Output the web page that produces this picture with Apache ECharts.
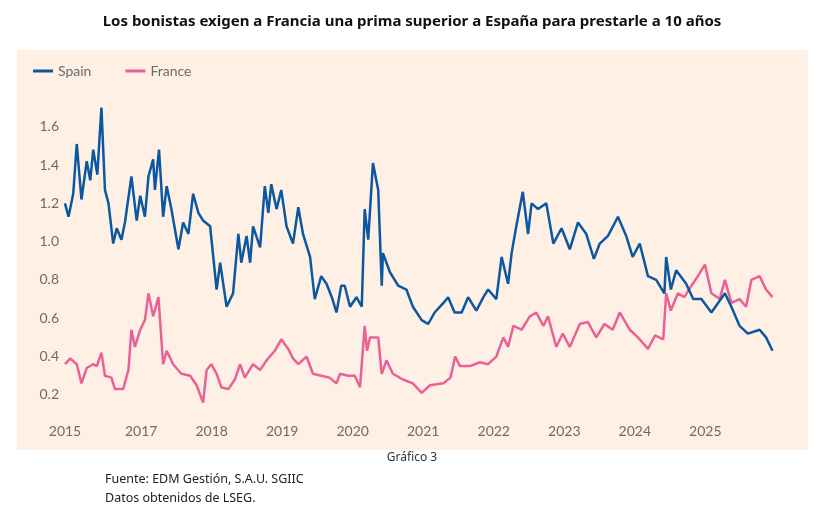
<!DOCTYPE html>
<html><head><meta charset="utf-8">
<script src="https://cdn.jsdelivr.net/npm/echarts@6/dist/echarts.min.js"></script>
<style>html,body{margin:0;background:#fff}#c{width:824px;height:521px}</style>
</head><body><div id="c"></div>
<script>
// month index from Dec 2015 (i=0)
const spainIdx = [0,0.6,1.4,2,2.8,3.7,4.3,4.8,5.5,6.2,6.8,7.4,8.2,8.8,9.6,10.2,11.3,12.2,12.8,13.6,14.2,15,15.3,16,16.7,17.3,18.1,19.3,20.1,21,21.8,22.7,23.5,24.7,25.8,26.4,27.5,28.6,29.5,30,30.9,31.5,32,33.2,34,34.6,35.1,36,36.8,37.7,38.8,39.7,40.5,41.7,42.5,43.6,44.5,45.4,46.2,47,47.6,48.5,49.6,50.5,51,51.6,52.4,53.3,53.9,54.1,55.3,56.7,58.1,59.2,60.7,61.8,62.9,64.4,65.2,66.3,67.5,68.6,70,71.2,72,73.4,74.3,75.4,76,76.8,77.9,78.8,79.4,80.5,81.9,83.1,84.5,85.9,87.3,88.7,90,91,92.4,94.1,95.5,96.6,97.8,99.2,100.6,102,102.3,103.1,104,105.7,106.9,108.3,110,112.3,113.4,114.8,116.2,118.2,119.3,120.4];
const spainVal = [1.20,1.13,1.25,1.51,1.22,1.42,1.32,1.48,1.35,1.70,1.27,1.20,0.99,1.07,1.01,1.10,1.34,1.11,1.24,1.13,1.34,1.43,1.27,1.48,1.13,1.29,1.17,0.96,1.10,1.04,1.25,1.15,1.11,1.08,0.75,0.89,0.66,0.73,1.04,0.89,1.03,0.89,1.08,0.97,1.29,1.15,1.30,1.17,1.27,1.08,0.99,1.18,1.04,0.92,0.70,0.82,0.78,0.71,0.63,0.77,0.77,0.66,0.71,0.66,1.17,1.01,1.41,1.27,0.77,0.94,0.84,0.77,0.75,0.66,0.59,0.57,0.63,0.68,0.71,0.63,0.63,0.71,0.64,0.71,0.75,0.70,0.92,0.78,0.94,1.08,1.26,1.04,1.20,1.17,1.20,0.99,1.07,0.96,1.10,1.04,0.91,0.99,1.03,1.13,1.03,0.92,0.99,0.82,0.80,0.73,0.92,0.75,0.85,0.78,0.70,0.70,0.63,0.73,0.66,0.56,0.52,0.54,0.50,0.43];
const franceIdx = [0,0.9,2,2.8,3.7,4.8,5.4,6.2,6.8,7.9,8.5,9.9,10.8,11.3,11.9,12.8,13.6,14.2,15,15.9,16.7,17.3,18.4,19.8,21.3,22.4,23.5,24.1,24.9,25.8,26.6,27.8,28.9,29.8,30.6,32,33.2,34.3,35.7,36.8,38,38.8,39.7,41.1,42.2,43.6,45,46.2,46.8,48.2,49.3,50.2,51,51.4,51.9,53.3,53.9,54.7,55.8,57.5,59.2,60.7,62.1,64.4,65.6,66.4,67.2,68.9,70.6,72,73.4,74.6,75.4,76.3,77.7,79.1,80.2,81.4,82.2,83.6,84.7,85.9,87.6,89,90.4,91.8,93.2,94.4,96.1,97.5,99.2,100.4,101.8,102.3,103.1,104.3,105.4,106.6,107.7,108.9,110,111.4,112.3,113.4,114.8,115.9,116.8,118.2,119.3,120.4];
const franceVal = [0.36,0.39,0.36,0.26,0.34,0.36,0.35,0.42,0.30,0.29,0.23,0.23,0.33,0.54,0.45,0.54,0.59,0.73,0.61,0.71,0.36,0.43,0.36,0.31,0.30,0.25,0.16,0.33,0.36,0.31,0.24,0.23,0.28,0.36,0.29,0.36,0.33,0.38,0.43,0.49,0.44,0.39,0.36,0.40,0.31,0.30,0.29,0.26,0.31,0.30,0.30,0.24,0.56,0.43,0.50,0.50,0.31,0.38,0.31,0.28,0.26,0.21,0.25,0.26,0.29,0.40,0.35,0.35,0.37,0.36,0.40,0.50,0.45,0.56,0.54,0.61,0.63,0.56,0.61,0.45,0.52,0.45,0.57,0.58,0.50,0.57,0.54,0.63,0.54,0.50,0.44,0.51,0.49,0.73,0.64,0.73,0.71,0.77,0.82,0.88,0.73,0.70,0.80,0.68,0.70,0.66,0.80,0.82,0.75,0.71];
const yearLabels = ['2015','2017','2018','2019','2020','2021','2022','2023','2024','2025'];
const yTicks = [0.2,0.4,0.6,0.8,1.0,1.2,1.4,1.6];

const t0 = 2015.92;
const toT = i => t0 + i/12;
const xTicks = [t0].concat(yearLabels.slice(1).map(Number));
const chart = echarts.init(document.getElementById('c'));
const txt = '#6b6b6b';
chart.setOption({
  animation:false,
  textStyle:{fontFamily:'Lato'},
  title:{text:'Los bonistas exigen a Francia una prima superior a España para prestarle a 10 años',left:'center',top:9,
    textStyle:{fontSize:15,fontWeight:'bold',color:'#111',fontFamily:'Noto Sans'}},
  graphic:[
    {type:'rect',z:-10,shape:{x:17,y:50,width:791,height:400},style:{fill:'#fef0e5'}},
    {type:'text',left:'center',top:452,style:{text:'Gráfico 3',fontSize:12,fill:'#333',fontFamily:'Noto Sans'}},
    {type:'text',left:105,top:470,style:{text:'Fuente: EDM Gestión, S.A.U. SGIIC\nDatos obtenidos de LSEG.',fontSize:12.5,lineHeight:19,fill:'#222',fontFamily:'Noto Sans'}}
  ],
  legend:{left:28,top:59,itemWidth:20,itemHeight:3,itemGap:34,icon:'rect',
    textStyle:{color:txt,fontSize:14},data:['Spain','France']},
  grid:{left:65,right:51,top:98,bottom:107},
  xAxis:{type:'value',min:t0,max:2025.96,
    axisLine:{show:false},axisTick:{show:false},splitLine:{show:false},
    axisLabel:{customValues:xTicks,color:txt,fontSize:14,margin:10,
      formatter:v=>v<2016?'2015':String(Math.round(v))}},
  yAxis:{type:'value',min:0.1,max:1.75,position:'left',
    axisLine:{show:false},axisTick:{show:false},splitLine:{show:false},
    axisLabel:{customValues:yTicks,color:txt,fontSize:14,margin:6,formatter:v=>v.toFixed(1)}},
  series:[
    {name:'Spain',type:'line',showSymbol:false,lineStyle:{width:2.5,color:'#0b57a0'},itemStyle:{color:'#0b57a0'},z:3,
      data:spainIdx.map((i,k)=>[toT(i),spainVal[k]])},
    {name:'France',type:'line',showSymbol:false,lineStyle:{width:2.5,color:'#ea6198'},itemStyle:{color:'#ea6198'},z:2,
      data:franceIdx.map((i,k)=>[toT(i),franceVal[k]])}
  ]
});
</script></body></html>
